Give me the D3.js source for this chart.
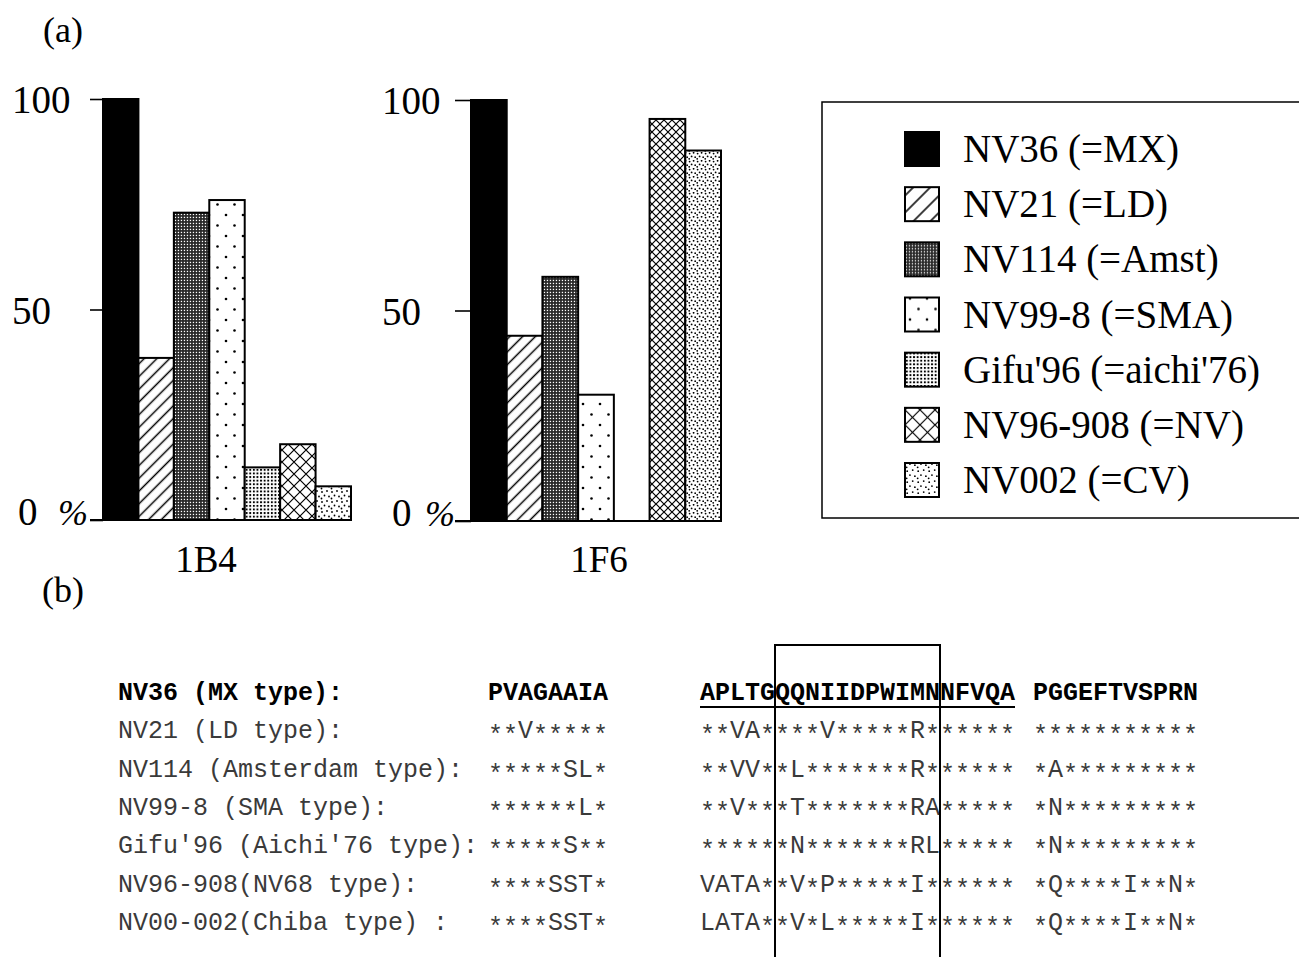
<!DOCTYPE html>
<html>
<head>
<meta charset="utf-8">
<script src="https://cdn.jsdelivr.net/npm/d3@7/dist/d3.min.js"></script>
<style>
  body { margin: 0; background: #fff; }
  svg { display: block; }
</style>
</head>
<body>
<div id="container"></div>
<script>
/* DATA */
const strains = ["NV36 (=MX)", "NV21 (=LD)", "NV114 (=Amst)", "NV99-8 (=SMA)",
  "Gifu'96 (=aichi'76)", "NV96-908 (=NV)", "NV002 (=CV)"];
const values1B4 = [100, 38.5, 73, 76, 12.5, 18, 8];
const values1F6 = [100, 44, 58, 30, 0, 95.5, 88];
const antibodies = ["1B4", "1F6"];
const yTickValues = [0, 50, 100];

const seqLabels = ["NV36 (MX type):", "NV21 (LD type):", "NV114 (Amsterdam type):",
  "NV99-8 (SMA type):", "Gifu'96 (Aichi'76 type):", "NV96-908(NV68 type):",
  "NV00-002(Chiba type) :"];
const seqBlock1 = ["PVAGAAIA", "**V*****", "*****SL*", "******L*", "*****S**", "****SST*", "****SST*"];
const seqBlock2 = ["APLTGQQNIIDPWIMNNFVQA", "**VA****V*****R******", "**VV**L*******R******",
  "**V***T*******RA*****", "******N*******RL*****", "VATA**V*P*****I******", "LATA**V*L*****I******"];
const seqBlock3 = ["PGGEFTVSPRN", "***********", "*A*********", "*N*********", "*N*********",
  "*Q****I**N*", "*Q****I**N*"];
// epitope box covers columns 5..15 of block 2, underline covers the whole block 2
const boxCols = [5, 16];

/* CONSTANTS AND GLOBALS */
const width = 1299, height = 957;
const serif = "'Liberation Serif', 'Times New Roman', serif";
const mono = "'Courier New', 'Liberation Mono', monospace";

const svg = d3.select("#container")
  .append("svg")
  .attr("width", width)
  .attr("height", height)
  .style("background-color", "#fff");

const defs = svg.append("defs");

// + PATTERNS (one set per panel, since the density differs a bit)
function addPatterns(suffix, hatchGap, crossSize, stippleSize) {
  const hatch = defs.append("pattern").attr("id", "p1" + suffix)
    .attr("patternUnits", "userSpaceOnUse")
    .attr("width", hatchGap).attr("height", hatchGap)
    .attr("patternTransform", "rotate(45)");
  hatch.append("rect").attr("width", hatchGap).attr("height", hatchGap).attr("fill", "#fff");
  hatch.append("line").attr("x1", hatchGap / 2).attr("x2", hatchGap / 2)
    .attr("y1", 0).attr("y2", hatchGap)
    .attr("stroke", "#000").attr("stroke-width", 1.5);

  const dark = defs.append("pattern").attr("id", "p2" + suffix)
    .attr("patternUnits", "userSpaceOnUse").attr("width", 3).attr("height", 3);
  dark.append("rect").attr("width", 3).attr("height", 3).attr("fill", "#262626");
  dark.append("rect").attr("x", 0.8).attr("y", 0.8).attr("width", 1.3).attr("height", 1.3).attr("fill", "#fff");

  const sparse = defs.append("pattern").attr("id", "p3" + suffix)
    .attr("patternUnits", "userSpaceOnUse").attr("width", 17).attr("height", 21);
  sparse.append("rect").attr("width", 17).attr("height", 21).attr("fill", "#fff");
  sparse.append("circle").attr("cx", 5).attr("cy", 5).attr("r", 1.3).attr("fill", "#000");
  sparse.append("circle").attr("cx", 13.5).attr("cy", 15.5).attr("r", 1.3).attr("fill", "#000");

  const grid = defs.append("pattern").attr("id", "p4" + suffix)
    .attr("patternUnits", "userSpaceOnUse").attr("width", 3.6).attr("height", 3.6);
  grid.append("rect").attr("width", 3.6).attr("height", 3.6).attr("fill", "#fff");
  grid.append("rect").attr("x", 0.9).attr("y", 0.9).attr("width", 1.9).attr("height", 1.9).attr("fill", "#000");

  const s = crossSize;
  const cross = defs.append("pattern").attr("id", "p5" + suffix)
    .attr("patternUnits", "userSpaceOnUse").attr("width", s).attr("height", s);
  cross.append("rect").attr("width", s).attr("height", s).attr("fill", "#fff");
  cross.append("path").attr("d", `M0,0L${s},${s}M0,${s}L${s},0`)
    .attr("stroke", "#000").attr("stroke-width", 1.2).attr("fill", "none");

  const t = stippleSize;
  const stip = defs.append("pattern").attr("id", "p6" + suffix)
    .attr("patternUnits", "userSpaceOnUse").attr("width", t).attr("height", t);
  stip.append("rect").attr("width", t).attr("height", t).attr("fill", "#fff");
  [[0.2, 0.2], [0.7, 0.1], [0.45, 0.55], [0.9, 0.65], [0.15, 0.85]].forEach(p => {
    stip.append("circle").attr("cx", p[0] * t).attr("cy", p[1] * t).attr("r", 0.9).attr("fill", "#000");
  });
}
addPatterns("a", 9, 12, 10);
addPatterns("b", 9, 8, 8);
addPatterns("L", 12, 15, 11);

function fillFor(i, suffix) {
  return i === 0 ? "#000" : `url(#p${i}${suffix})`;
}

/* PANEL (a) */
svg.append("text").attr("x", 43).attr("y", 42)
  .attr("font-family", serif).attr("font-size", 36).text("(a)");

const charts = [
  { values: values1B4, name: antibodies[0], suffix: "a", left: 103, right: 351, bottom: 520, top: 99,
    tickStart: 90, labelX: [18, 12, 12], pctX: 58, nameX: 206 },
  { values: values1F6, name: antibodies[1], suffix: "b", left: 471, right: 721, bottom: 521, top: 100,
    tickStart: 455, labelX: [392, 382, 382], pctX: 425, nameX: 599 }
];

charts.forEach(cfg => {
  const x = d3.scaleBand().domain(d3.range(strains.length)).range([cfg.left, cfg.right]).padding(0);
  const y = d3.scaleLinear().domain([0, 100]).range([cfg.bottom, cfg.top]);
  const g = svg.append("g");

  // + BARS
  g.selectAll("rect.bar")
    .data(cfg.values.map((v, i) => ({ v, i })).filter(d => d.v > 0))
    .join("rect")
    .attr("class", "bar")
    .attr("x", d => x(d.i))
    .attr("y", d => y(d.v))
    .attr("width", x.bandwidth())
    .attr("height", d => y(0) - y(d.v))
    .attr("fill", d => fillFor(d.i, cfg.suffix))
    .attr("stroke", "#000")
    .attr("stroke-width", 2);

  // + Y TICKS (no domain line, the black bar sits on it)
  const yAxis = d3.axisLeft(y)
    .tickValues(yTickValues)
    .tickSize(cfg.left - cfg.tickStart)
    .tickFormat("");
  g.append("g")
    .attr("transform", `translate(${cfg.left},0)`)
    .call(yAxis)
    .call(a => a.select(".domain").remove())
    .selectAll("line").attr("stroke", "#000").attr("stroke-width", 1.6);

  // baseline
  g.append("line")
    .attr("x1", cfg.tickStart).attr("x2", cfg.right)
    .attr("y1", y(0)).attr("y2", y(0))
    .attr("stroke", "#000").attr("stroke-width", 2);

  // tick labels
  g.selectAll("text.tick-label")
    .data(yTickValues)
    .join("text")
    .attr("class", "tick-label")
    .attr("x", (d, i) => cfg.labelX[i])
    .attr("y", d => y(d) + (d === 0 ? 5 : 14))
    .attr("font-family", serif)
    .attr("font-size", 39)
    .text(d => d);
  g.append("text")
    .attr("x", cfg.pctX).attr("y", y(0) + 5)
    .attr("font-family", serif).attr("font-style", "italic")
    .attr("font-size", 36).text("%");

  // antibody name
  g.append("text")
    .attr("x", cfg.nameX).attr("y", 572)
    .attr("text-anchor", "middle")
    .attr("font-family", serif).attr("font-size", 37)
    .text(cfg.name);
});

// + LEGEND
const legend = svg.append("g");
legend.append("rect")
  .attr("x", 822).attr("y", 102).attr("width", 500).attr("height", 416)
  .attr("fill", "none").attr("stroke", "#000").attr("stroke-width", 1.5);
const legendY = d3.scalePoint().domain(d3.range(strains.length)).range([149, 480]);
const items = legend.selectAll("g.item")
  .data(strains)
  .join("g")
  .attr("class", "item")
  .attr("transform", (d, i) => `translate(905,${legendY(i)})`);
items.append("rect")
  .attr("x", 0).attr("y", -17).attr("width", 34).attr("height", 34)
  .attr("fill", (d, i) => fillFor(i, "L"))
  .attr("stroke", "#000").attr("stroke-width", 2);
items.append("text")
  .attr("x", 58).attr("y", 13)
  .attr("font-family", serif).attr("font-size", 39)
  .text(d => d);

/* PANEL (b) */
svg.append("text").attr("x", 42).attr("y", 602)
  .attr("font-family", serif).attr("font-size", 36).text("(b)");

const pitch = 15;
const blockStarts = [488, 700, 1033];
const rowY = d3.scaleLinear().domain([0, seqLabels.length - 1]).range([700, 930]);
const seqRows = seqLabels.map((label, i) => ({
  label, blocks: [seqBlock1[i], seqBlock2[i], seqBlock3[i]], i
}));

const rows = svg.append("g").selectAll("g.row")
  .data(seqRows)
  .join("g")
  .attr("class", "row")
  .attr("font-family", mono)
  .attr("font-size", 25)
  .attr("font-weight", d => d.i === 0 ? "bold" : "normal")
  .attr("fill", d => d.i === 0 ? "#000" : "#3a3a3a");

rows.append("text")
  .attr("x", 118).attr("y", d => rowY(d.i))
  .style("white-space", "pre")
  .text(d => d.label);

// one text per residue so the '*' can sit at mid height like the typewriter font
rows.selectAll("text.res")
  .data(d => d.blocks.flatMap((s, b) => s.split("").map((ch, k) => ({ ch, b, k, i: d.i }))))
  .join("text")
  .attr("class", "res")
  .attr("x", d => blockStarts[d.b] + d.k * pitch)
  .attr("y", d => rowY(d.i) + (d.ch === "*" ? 5 : 0))
  .text(d => d.ch);

// underline of the reference block
svg.append("line")
  .attr("x1", blockStarts[1]).attr("x2", blockStarts[1] + seqBlock2[0].length * pitch)
  .attr("y1", 707).attr("y2", 707)
  .attr("stroke", "#000").attr("stroke-width", 2.2);

// epitope box
svg.append("rect")
  .attr("x", blockStarts[1] + boxCols[0] * pitch)
  .attr("y", 645)
  .attr("width", (boxCols[1] - boxCols[0]) * pitch)
  .attr("height", 340)
  .attr("fill", "none")
  .attr("stroke", "#000").attr("stroke-width", 2);
</script>
</body>
</html>
